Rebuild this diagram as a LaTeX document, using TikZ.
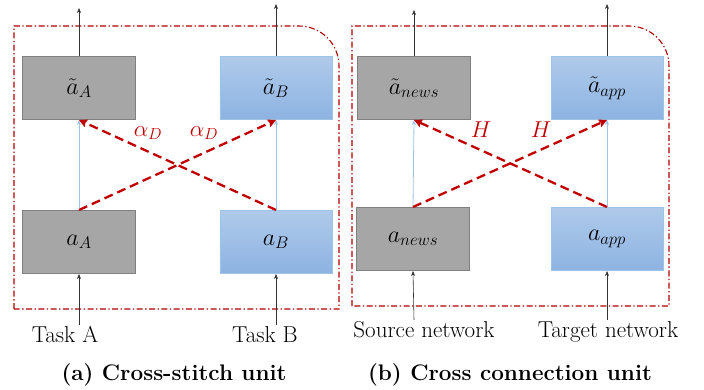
\RequirePackage{fix-cm}
\documentclass[tikz,border=0pt]{standalone}
\usetikzlibrary{arrows.meta}
\definecolor{boxgray}{HTML}{A6A6A6}
\definecolor{boxgrayline}{HTML}{808080}
\definecolor{bluetop}{HTML}{AFCAEA}
\definecolor{bluebot}{HTML}{8DB3E2}
\definecolor{blueline}{HTML}{9DC3E6}
\definecolor{crossred}{HTML}{C00000}
\definecolor{framered}{HTML}{B00000}
\begin{document}
\begin{tikzpicture}[x=1pt,y=-1pt,
  graybox/.style={draw=boxgrayline,line width=1pt,fill=boxgray,minimum width=113pt,minimum height=63pt,inner sep=0pt,font=\fontsize{24}{28}\selectfont},
  bluebox/.style={draw=blueline,line width=1pt,top color=bluetop,bottom color=bluebot,minimum width=112pt,minimum height=63pt,inner sep=0pt,font=\fontsize{24}{28}\selectfont},
  ioarrow/.style={draw=black!80,line width=0.6pt,-{Stealth[length=5pt,width=4pt]}},
  skiparrow/.style={draw=blueline,line width=0.8pt,-{Stealth[length=5pt,width=4pt]}},
  crossarrow/.style={draw=crossred,line width=2.3pt,dash pattern=on 9pt off 5pt,-{Stealth[length=8pt,width=8pt,inset=1pt]}},
  unitframe/.style={draw=framered,line width=1.1pt,dash pattern=on 6pt off 2.5pt on 1.3pt off 2.5pt},
  wlabel/.style={font=\fontsize{23}{26}\selectfont,anchor=base,inner sep=0pt},
  caplabel/.style={font=\fontsize{22.5}{26}\selectfont\bfseries,anchor=base,inner sep=0pt},
  weight/.style={text=crossred,font=\fontsize{23}{25}\selectfont,inner sep=0pt}
]
\useasboundingbox (0,0) rectangle (704,390);

% ---------- frames ----------
\draw[unitframe] (14,309) -- (14,26) -- (299,26) arc[start angle=-90,end angle=0,radius=40] -- (339,309) -- cycle;
\draw[unitframe] (352,306) -- (352,26) -- (629,26) arc[start angle=-90,end angle=0,radius=40] -- (669,306) -- cycle;

% ---------- left panel ----------
\node[graybox] (tA) at (79,88) {$\tilde{a}_A$};
\node[bluebox] (tB) at (276,88) {$\tilde{a}_B$};
\node[graybox] (aA) at (79,242) {$a_A$};
\node[bluebox] (aB) at (276,242) {$a_B$};
\coordinate (oA) at (79,8);
\coordinate (oB) at (276,4);
\node[wlabel] (inA) at (65,342) {Task A};
\node[wlabel] (inB) at (265,342) {Task B};
\coordinate (iA) at (79,325);
\coordinate (iB) at (276,325);
\draw[ioarrow] (tA.north) -- (oA);
\draw[ioarrow] (tB.north) -- (oB);
\draw[ioarrow] (iA) -- (aA.south);
\draw[ioarrow] (iB) -- (aB.south);
\draw[skiparrow] (aA.north) -- (tA.south);
\draw[skiparrow] (aB.north) -- (tB.south);
\draw[crossarrow] (aA.north) -- (tB.south);
\draw[crossarrow] (aB.north) -- (tA.south);
\node[weight] (wA) at (148,133) {$\alpha_D$};
\node[weight] (wB) at (204,133) {$\alpha_D$};
\node[caplabel] (capA) at (174,380) {(a) Cross-stitch unit};

% ---------- right panel ----------
\node[graybox] (tN) at (414,88) {$\tilde{a}_{news}$};
\node[bluebox] (tP) at (607,88) {$\tilde{a}_{app}$};
\node[graybox] (aN) at (413,239) {$a_{news}$};
\node[bluebox] (aP) at (607,239) {$a_{app}$};
\coordinate (oN) at (414,10);
\coordinate (oP) at (607,4);
\node[wlabel] (inN) at (424,337) {Source network};
\node[wlabel] (inP) at (608,337) {Target network};
\coordinate (iN) at (414,320);
\coordinate (iP) at (607,320);
\draw[ioarrow] (tN.north) -- (oN);
\draw[ioarrow] (tP.north) -- (oP);
\draw[ioarrow] (iN) -- (aN.south);
\draw[ioarrow] (iP) -- (aP.south);
\draw[skiparrow] (aN.north) -- (tN.south);
\draw[skiparrow] (aP.north) -- (tP.south);
\draw[crossarrow] (aN.north) -- (tP.south);
\draw[crossarrow] (aP.north) -- (tN.south);
\node[weight] (wN) at (481,130) {$H$};
\node[weight] (wP) at (541,130) {$H$};
\node[caplabel] (capB) at (510,380) {(b) Cross connection unit};
\end{tikzpicture}
\end{document}
